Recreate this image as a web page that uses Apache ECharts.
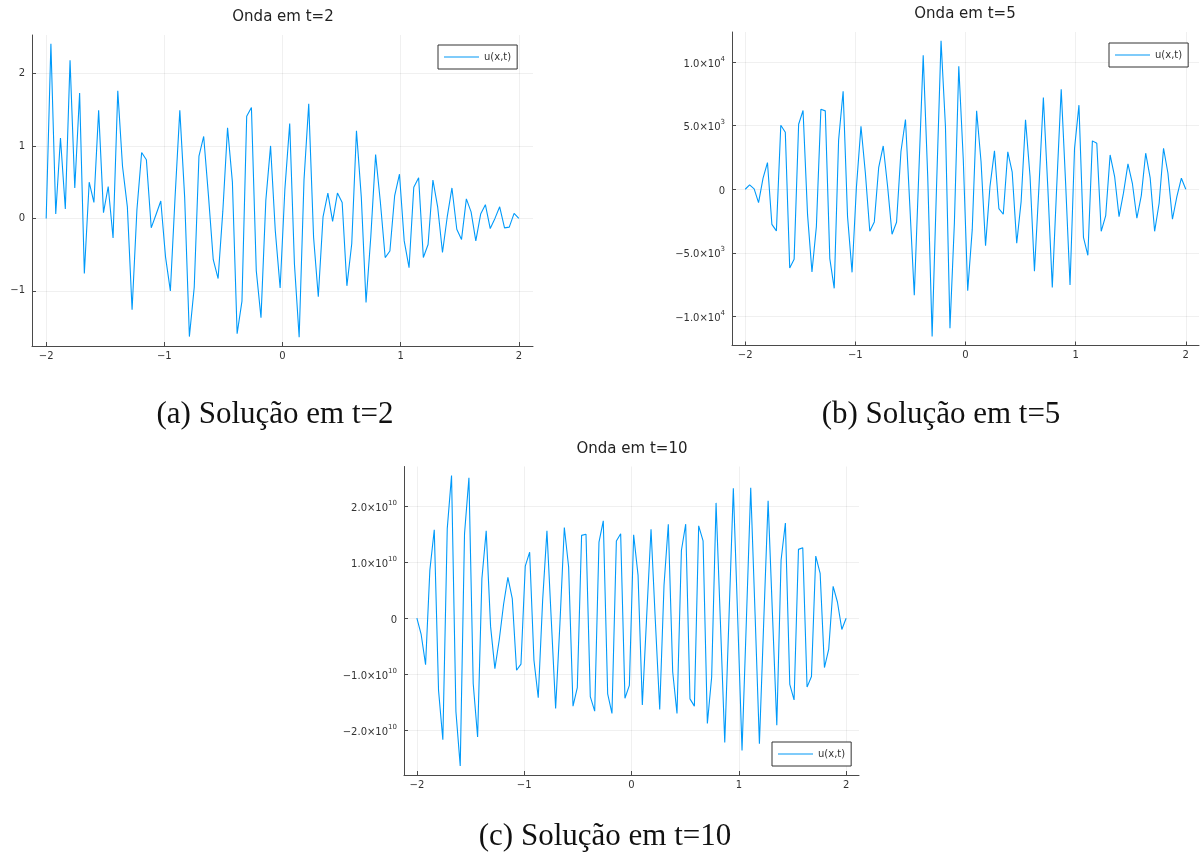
<!DOCTYPE html>
<html>
<head>
<meta charset="utf-8">
<script src="https://cdn.jsdelivr.net/npm/echarts@6/dist/echarts.min.js"></script>
<style>
  html, body { margin: 0; padding: 0; background: #fff; }
  #main { width: 1202px; height: 856px; }
</style>
</head>
<body>
<div id="main"></div>
<script>
// Sample grid: 100 points on [-2, 2]
const xs = [
  -2.000, -1.960, -1.919, -1.879, -1.838, -1.798, -1.758, -1.717, -1.677, -1.636,
  -1.596, -1.556, -1.515, -1.475, -1.434, -1.394, -1.354, -1.313, -1.273, -1.232,
  -1.192, -1.152, -1.111, -1.071, -1.030, -0.990, -0.949, -0.909, -0.869, -0.828,
  -0.788, -0.747, -0.707, -0.667, -0.626, -0.586, -0.545, -0.505, -0.465, -0.424,
  -0.384, -0.343, -0.303, -0.263, -0.222, -0.182, -0.141, -0.101, -0.061, -0.020,
   0.020,  0.061,  0.101,  0.141,  0.182,  0.222,  0.263,  0.303,  0.343,  0.384,
   0.424,  0.465,  0.505,  0.545,  0.586,  0.626,  0.667,  0.707,  0.747,  0.788,
   0.828,  0.869,  0.909,  0.949,  0.990,  1.030,  1.071,  1.111,  1.152,  1.192,
   1.232,  1.273,  1.313,  1.354,  1.394,  1.434,  1.475,  1.515,  1.556,  1.596,
   1.636,  1.677,  1.717,  1.758,  1.798,  1.838,  1.879,  1.919,  1.960,  2.000
];

// u(x, t=2)
const uT2 = [
  0.00, 2.41, 0.06, 1.11, 0.13, 2.18, 0.42, 1.73, -0.76, 0.50,
  0.22, 1.49, 0.08, 0.44, -0.27, 1.76, 0.72, 0.16, -1.26, 0.12,
  0.91, 0.81, -0.13, 0.05, 0.24, -0.53, -1.00, 0.30, 1.49, 0.29,
  -1.63, -0.95, 0.86, 1.13, 0.30, -0.57, -0.83, 0.10, 1.25, 0.50,
  -1.59, -1.14, 1.41, 1.53, -0.72, -1.37, 0.25, 1.00, -0.17, -0.96,
  0.40, 1.31, -0.63, -1.64, 0.53, 1.58, -0.26, -1.08, 0.02, 0.35,
  -0.04, 0.35, 0.22, -0.93, -0.35, 1.21, 0.29, -1.16, -0.26, 0.88,
  0.23, -0.54, -0.45, 0.31, 0.61, -0.31, -0.68, 0.43, 0.56, -0.54,
  -0.36, 0.53, 0.16, -0.47, 0.02, 0.42, -0.15, -0.29, 0.27, 0.09,
  -0.31, 0.06, 0.19, -0.14, 0.00, 0.16, -0.13, -0.12, 0.07, 0.00
];

// u(x, t=5)
const uT5 = [
  0, 340, 30, -1050, 870, 2100, -2760, -3280, 5040, 4490,
  -6200, -5510, 5120, 6200, -2000, -6510, -2940, 6300, 6170, -5460,
  -7800, 3890, 7720, -2150, -6540, 210, 4960, 1260, -3310, -2570,
  1730, 3410, 200, -3540, -2600, 2970, 5490, -1370, -8350, 1260,
  10550, 1000, -11600, 200, 11680, 4940, -10950, -2680, 9690, 2300,
  -7980, -3200, 6170, 2180, -4440, 210, 3020, -1520, -1970, 2940,
  1340, -4250, -970, 5460, 1000, -6460, 210, 7220, 200, -7740,
  200, 7880, 470, -7530, 3230, 6620, -3780, -5200, 3810, 3620,
  -3310, -2070, 2700, 1000, -2150, -310, 2000, 470, -2280, -500,
  2840, 870, -3310, -1100, 3230, 1260, -2360, -580, 870, 0
];

// u(x, t=10), in units of 1e10
const uT10 = [
  0.00, -0.29, -0.83, 0.86, 1.58, -1.29, -2.17, 1.60, 2.55, -1.67,
  -2.64, 1.51, 2.51, -1.17, -2.12, 0.71, 1.56, -0.15, -0.90, -0.38,
  0.25, 0.73, 0.35, -0.93, -0.82, 0.93, 1.18, -0.75, -1.42, 0.32,
  1.56, -0.05, -1.61, -0.10, 1.62, 0.92, -1.57, -1.24, 1.48, 1.50,
  -1.40, -1.66, 1.36, 1.74, -1.35, -1.70, 1.38, 1.51, -1.43, -1.20,
  1.49, 0.77, -1.55, 0.02, 1.59, -0.04, -1.63, 0.59, 1.68, -0.96,
  -1.70, 1.21, 1.68, -1.44, -1.57, 1.65, 1.38, -1.88, -1.05, 2.06,
  -0.04, -2.22, 0.05, 2.32, -0.02, -2.36, -0.01, 2.33, 0.05, -2.24,
  -0.07, 2.10, 0.10, -1.91, 1.04, 1.70, -1.18, -1.46, 1.23, 1.26,
  -1.23, -1.04, 1.11, 0.80, -0.88, -0.55, 0.57, 0.29, -0.20, 0.00
];
const T10_UNIT = 1e10;

// Tick values
const xTicks = [-2, -1, 0, 1, 2];
const yTicksT2 = [-1, 0, 1, 2];
const yTicksT5 = [-10000, -5000, 0, 5000, 10000];
const yTicksT10 = [-2e10, -1e10, 0, 1e10, 2e10];

// Texts
const panelTitles = ['Onda em t=2', 'Onda em t=5', 'Onda em t=10'];
const captions = ['(a) Solução em t=2', '(b) Solução em t=5', '(c) Solução em t=10'];
const seriesName = 'u(x,t)';

const FONT = 'DejaVu Sans';
const SERIF = 'Liberation Serif';
const LINE = '#009AFA';
const AXIS = '#4a4a4a';
const GRIDC = 'rgba(0,0,0,0.06)';
const MINUS = '\u2212';

function fmtPlain(v) {
  return v < 0 ? MINUS + Math.abs(v) : String(v);
}
function fmtSci(v) {
  if (v === 0) return '{b|0}';
  const a = Math.abs(v);
  const e = Math.floor(Math.log10(a) + 1e-9);
  const m = a / Math.pow(10, e);
  return '{b|' + (v < 0 ? MINUS : '') + m.toFixed(1) + '×10}{s|' + e + '}';
}
const sciRich = {
  b: { fontFamily: FONT, fontSize: 10, color: '#333', lineHeight: 14, verticalAlign: 'bottom' },
  s: { fontFamily: FONT, fontSize: 7, color: '#333', lineHeight: 8, verticalAlign: 'top' }
};

function xAxisFor(gi) {
  return {
    type: 'value', gridIndex: gi, min: -2.12, max: 2.12,
    axisLine: { show: true, onZero: false, lineStyle: { color: AXIS, width: 1 } },
    axisTick: { show: true, inside: true, length: 4, customValues: xTicks, lineStyle: { color: AXIS } },
    axisLabel: { customValues: xTicks, formatter: fmtPlain, fontFamily: FONT, fontSize: 10, color: '#333', margin: 5 },
    splitLine: { show: true, lineStyle: { color: GRIDC, width: 1 } }
  };
}
function yAxisFor(gi, min, max, ticks, sci) {
  return {
    type: 'value', gridIndex: gi, min: min, max: max,
    axisLine: { show: true, onZero: false, lineStyle: { color: AXIS, width: 1 } },
    axisTick: { show: true, inside: true, length: 4, customValues: ticks, lineStyle: { color: AXIS } },
    axisLabel: sci
      ? { customValues: ticks, formatter: fmtSci, rich: sciRich, margin: 7 }
      : { customValues: ticks, formatter: fmtPlain, fontFamily: FONT, fontSize: 10, color: '#333', margin: 7 },
    splitLine: { show: true, lineStyle: { color: GRIDC, width: 1 } }
  };
}
function seriesFor(gi, vals, scale) {
  return {
    name: seriesName, type: 'line', xAxisIndex: gi, yAxisIndex: gi,
    data: xs.map((x, i) => [x, vals[i] * scale]),
    symbol: 'none', showSymbol: false,
    lineStyle: { color: LINE, width: 1.1 }, itemStyle: { color: LINE },
    animation: false
  };
}
function legendAt(left, top) {
  return {
    data: [seriesName], left: left, top: top, orient: 'horizontal',
    icon: 'rect', itemWidth: 35, itemHeight: 1.5, itemGap: 4,
    itemStyle: { color: '#55baf8', borderWidth: 0 },
    padding: [6, 6, 6, 6],
    borderColor: '#333', borderWidth: 1, borderRadius: 0, backgroundColor: '#fff',
    textStyle: { fontFamily: FONT, fontSize: 10, color: '#333', lineHeight: 12 },
    selectedMode: false
  };
}
function textAt(x, y, text, font, size, color) {
  return {
    type: 'text', x: x, y: y, silent: true,
    style: { text: text, fontFamily: font, fontSize: size, fill: color, align: 'center', verticalAlign: 'middle' }
  };
}

const chart = echarts.init(document.getElementById('main'), null, { renderer: 'canvas' });
chart.setOption({
  animation: false,
  backgroundColor: '#fff',
  grid: [
    { left: 32, top: 35, width: 501, height: 311 },
    { left: 732, top: 32, width: 467, height: 313.5 },
    { left: 404, top: 466.5, width: 455, height: 308.5 }
  ],
  xAxis: [xAxisFor(0), xAxisFor(1), xAxisFor(2)],
  yAxis: [
    yAxisFor(0, -1.76, 2.53, yTicksT2, false),
    yAxisFor(1, -12300, 12380, yTicksT5, true),
    yAxisFor(2, -2.80e10, 2.71e10, yTicksT10, true)
  ],
  legend: [legendAt(438, 45), legendAt(1109, 43), legendAt(772, 742)],
  series: [
    seriesFor(0, uT2, 1),
    seriesFor(1, uT5, 1),
    seriesFor(2, uT10, T10_UNIT)
  ],
  graphic: [
    textAt(283, 17, panelTitles[0], FONT, 15, '#222'),
    textAt(965, 14, panelTitles[1], FONT, 15, '#222'),
    textAt(632, 449, panelTitles[2], FONT, 15, '#222'),
    textAt(275, 415, captions[0], SERIF, 31, '#111'),
    textAt(941, 415, captions[1], SERIF, 31, '#111'),
    textAt(605, 837, captions[2], SERIF, 31, '#111')
  ]
});
</script>
</body>
</html>
